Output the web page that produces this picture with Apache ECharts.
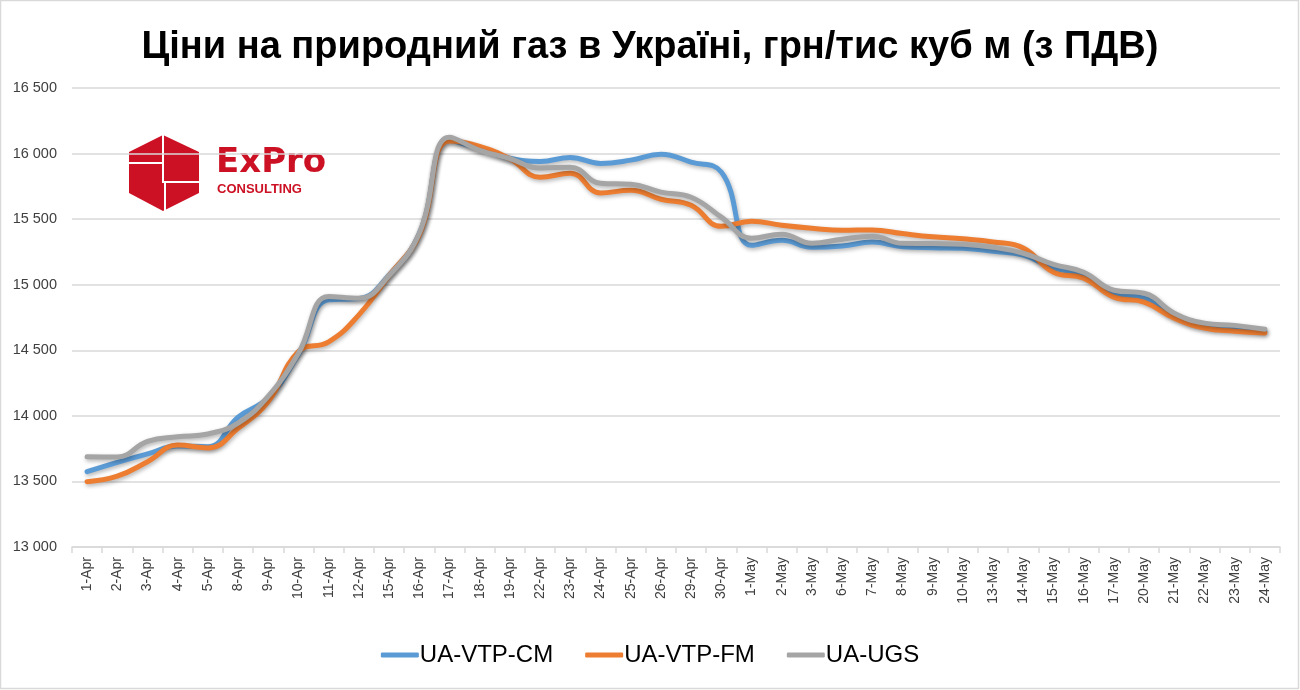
<!DOCTYPE html>
<html><head><meta charset="utf-8">
<script src="https://cdn.jsdelivr.net/npm/echarts@6/dist/echarts.min.js"></script>
<style>html,body{margin:0;padding:0;background:#fff}#c{width:1300px;height:690px}</style>
</head><body><div id="c"></div>
<script>
const categories = ['1-Apr','2-Apr','3-Apr','4-Apr','5-Apr','8-Apr','9-Apr','10-Apr','11-Apr','12-Apr','15-Apr','16-Apr','17-Apr','18-Apr','19-Apr','22-Apr','23-Apr','24-Apr','25-Apr','26-Apr','29-Apr','30-Apr','1-May','2-May','3-May','6-May','7-May','8-May','9-May','10-May','13-May','14-May','15-May','16-May','17-May','20-May','21-May','22-May','23-May','24-May'];
const vtpCM = [13574,13645,13710,13770,13765,13990,14140,14470,14885,14895,15075,15390,16100,16035,15965,15940,15970,15925,15950,15995,15935,15860,15300,15340,15286,15295,15325,15290,15282,15278,15255,15225,15128,15072,14928,14897,14760,14685,14668,14646];
const vtpFM = [13498,13540,13650,13777,13755,13905,14110,14490,14565,14770,15070,15380,16095,16055,15960,15820,15850,15700,15720,15652,15606,15445,15484,15454,15431,15415,15418,15390,15365,15350,15326,15280,15095,15050,14905,14867,14745,14670,14646,14632];
const ugs = [13688,13686,13805,13840,13862,13945,14150,14478,14910,14897,15070,15393,16125,16025,15962,15890,15896,15774,15766,15706,15667,15515,15355,15385,15316,15347,15370,15316,15314,15308,15285,15240,15155,15095,14958,14935,14783,14707,14690,14661];
const seriesNames = ['UA-VTP-CM','UA-VTP-FM','UA-UGS'];
const colors = ['#5B9BD5','#ED7D31','#A5A5A5'];
const titleText = 'Ціни на природний газ в Україні, грн/тис куб м (з ПДВ)';

const chart = echarts.init(document.getElementById('c'));
const mk = (name, data, color) => ({
  name, type:'line', data, smooth:0.45, symbol:'none', color,
  lineStyle:{width:5, color, cap:'round', join:'round', shadowColor:'rgba(0,0,0,0.3)', shadowBlur:4, shadowOffsetX:1, shadowOffsetY:2}
});
const red = '#CC1124';
chart.setOption({
  animation:false,
  title:{text:titleText, left:'center', top:24, textStyle:{fontFamily:'Liberation Sans', fontWeight:'bold', fontSize:38, color:'#000'}},
  grid:{left:72, right:20, top:88, bottom:143},
  legend:{bottom:18, left:'center', icon:'roundRect', itemWidth:38, itemHeight:5, itemGap:32,
    textStyle:{fontFamily:'Liberation Sans', fontSize:24, color:'#000', padding:[0,0,0,-4]}, data:seriesNames},
  xAxis:{type:'category', data:categories, boundaryGap:true,
    axisLine:{lineStyle:{color:'#d9d9d9', width:1.5}},
    axisTick:{show:true, length:6, lineStyle:{color:'#d9d9d9', width:1.5}},
    axisLabel:{rotate:90, fontSize:14, fontFamily:'Liberation Sans', color:'#404040', margin:10, interval:0}},
  yAxis:{type:'value', min:13000, max:16500, interval:500,
    axisLine:{show:false}, axisTick:{show:false},
    splitLine:{lineStyle:{color:'#d9d9d9', width:1.5}},
    axisLabel:{fontSize:14.5, fontFamily:'Liberation Sans', color:'#404040', margin:15,
      formatter:v=>String(v).replace(/\B(?=(\d{3})+(?!\d))/g,' ')}},
  series:[mk(seriesNames[0], vtpCM, colors[0]), mk(seriesNames[1], vtpFM, colors[1]), mk(seriesNames[2], ugs, colors[2])],
  graphic:[
    {type:'rect', shape:{x:0.5, y:0.5, width:1298, height:688}, style:{fill:null, stroke:'#d9d9d9', lineWidth:1.5}, silent:true},
    {type:'polygon', shape:{points:[[163,135],[199,152],[199,193],[163,211],[129,193],[129,152]]}, style:{fill:red}},
    {type:'polyline', shape:{points:[[163,135],[163,182],[165,182],[165,211]]}, style:{stroke:'#fff', lineWidth:2, fill:null}},
    {type:'line', shape:{x1:129, y1:163, x2:163, y2:163}, style:{stroke:'#fff', lineWidth:2}},
    {type:'line', shape:{x1:165, y1:182, x2:199, y2:182}, style:{stroke:'#fff', lineWidth:2}},
    {type:'text', x:216, y:146, style:{text:'ExPro', fill:red, font:'bold 34px "DejaVu Sans"', letterSpacing:1}},
    {type:'text', x:217, y:183, style:{text:'CONSULTING', fill:red, font:'bold 13px "Liberation Sans"'}}
  ]
});
</script></body></html>
